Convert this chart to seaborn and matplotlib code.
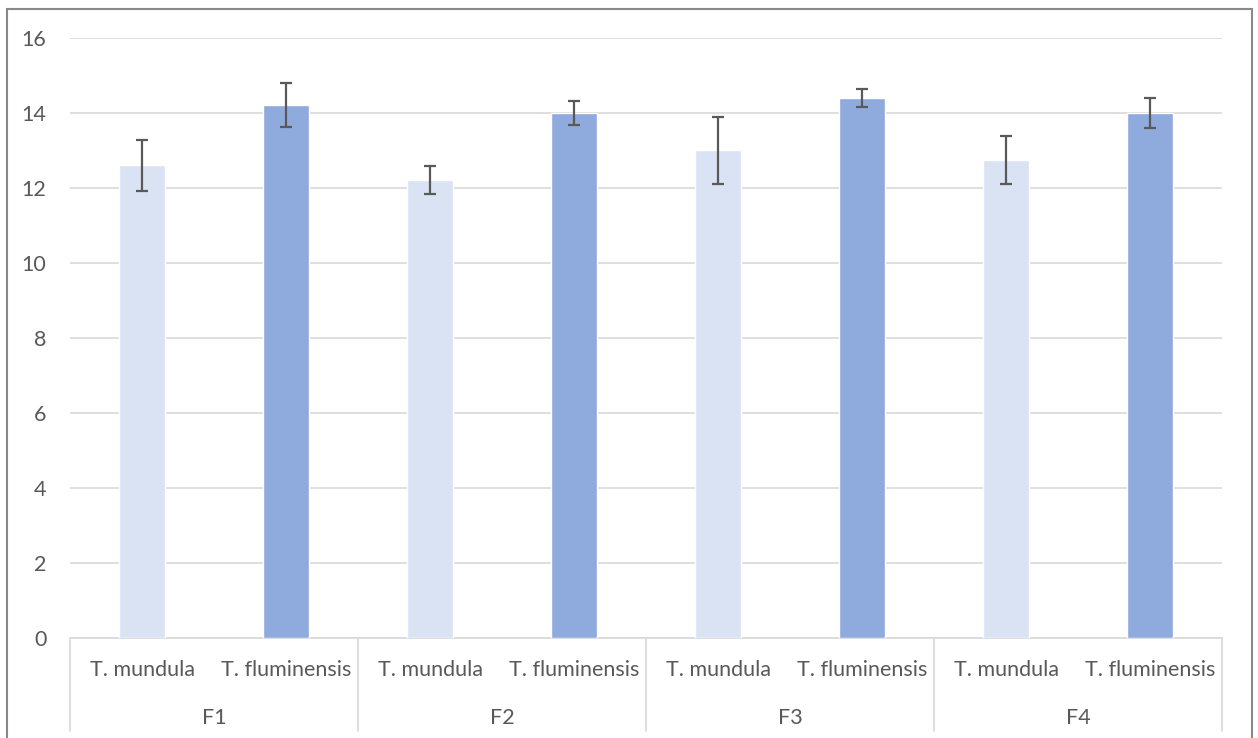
import pandas as pd
import seaborn as sns
import matplotlib.pyplot as plt
from matplotlib.patches import Rectangle

# values
groups = ["F1", "F2", "F3", "F4"]
species = ["T. mundula", "T. fluminensis"]
mundula_mean = [12.61, 12.21, 13.01, 12.75]
mundula_sd = [0.68, 0.37, 0.89, 0.63]
fluminensis_mean = [14.21, 14.00, 14.40, 14.00]
fluminensis_sd = [0.58, 0.32, 0.24, 0.41]
bar_colors = ["#DAE3F3", "#8FAADC"]

rows = []
for i, g in enumerate(groups):
    rows.append((g, species[0], mundula_mean[i], mundula_sd[i]))
    rows.append((g, species[1], fluminensis_mean[i], fluminensis_sd[i]))
df = pd.DataFrame(rows, columns=["group", "species", "value", "sd"])
df["slot"] = df["group"] + " | " + df["species"]

sns.set_style("white")
plt.rcParams["font.family"] = ["Lato", "DejaVu Sans"]
text_color = "#595959"
grid_color = "#D9D9D9"
fs = 15.5

fig = plt.figure(figsize=(12.58, 7.38), dpi=100)
ax = fig.add_axes([70 / 1258, 1 - 638 / 738, (1222 - 70) / 1258, 600 / 738])

sns.barplot(data=df, x="slot", y="value", hue="species", order=list(df["slot"]),
            hue_order=species, palette=bar_colors, dodge=False, width=0.32,
            saturation=1, legend=False, ax=ax, zorder=3)
ax.errorbar(range(len(df)), df["value"], yerr=df["sd"], fmt="none",
            ecolor="#595959", elinewidth=1.6, capsize=4.5, capthick=1.6, zorder=4)

ax.set_ylim(0, 16)
ax.set_yticks(range(0, 17, 2))
ax.set_xlim(-0.5, len(df) - 0.5)
ax.yaxis.grid(True, color=grid_color, lw=1.2, zorder=0)
ax.set_axisbelow(True)
for s in ["top", "right", "left"]:
    ax.spines[s].set_visible(False)
ax.spines["bottom"].set_color(grid_color)
ax.spines["bottom"].set_linewidth(1.2)

ax.set_xticks(range(len(df)))
ax.set_xticklabels(df["species"])
ax.tick_params(axis="x", length=0, pad=15.5, labelsize=fs, labelcolor=text_color)
ax.tick_params(axis="y", length=0, pad=17, labelsize=fs, labelcolor=text_color)
ax.set_xlabel("")
ax.set_ylabel("")

# second level of the category axis
xt = ax.get_xaxis_transform()
n = len(species)
for i, g in enumerate(groups):
    ax.text(i * n + (n - 1) / 2, -0.133, g, transform=xt, ha="center", va="center",
            fontsize=fs, color=text_color)
for b in range(len(groups) + 1):
    ax.plot([b * n - 0.5] * 2, [0, -0.155], transform=xt, color=grid_color,
            lw=1.2, clip_on=False)

fig.add_artist(Rectangle((7 / 1258, -0.1), (1252 - 7) / 1258, 1.1 - 9.5 / 738,
                         transform=fig.transFigure, fill=False,
                         edgecolor="#898989", lw=1.5))

fig.savefig("out.png", dpi=100)
